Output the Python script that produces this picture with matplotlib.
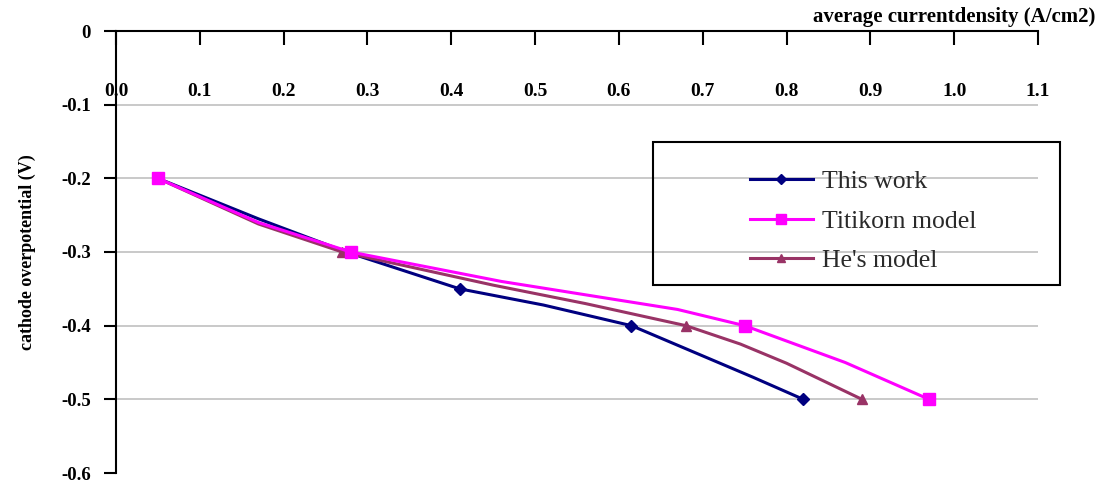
import matplotlib
matplotlib.use("Agg")
import matplotlib.pyplot as plt
from matplotlib.patches import Rectangle

# ---- data ----
this_x = [0.05, 0.17, 0.275, 0.41, 0.51, 0.615, 0.76, 0.82]
this_y = [-0.2, -0.255, -0.3, -0.35, -0.372, -0.4, -0.47, -0.5]
this_marks = [0, 2, 3, 5, 7]

tit_x = [0.05, 0.17, 0.28, 0.46, 0.67, 0.75, 0.87, 0.97]
tit_y = [-0.2, -0.26, -0.3, -0.34, -0.378, -0.4, -0.45, -0.5]
tit_marks = [0, 2, 5, 7]

he_x = [0.05, 0.17, 0.27, 0.45, 0.56, 0.68, 0.745, 0.80, 0.89]
he_y = [-0.2, -0.262, -0.3, -0.345, -0.37, -0.4, -0.425, -0.451, -0.5]
he_marks = [0, 2, 5, 8]

x_ticks = [0.0, 0.1, 0.2, 0.3, 0.4, 0.5, 0.6, 0.7, 0.8, 0.9, 1.0, 1.1]
y_ticks = [0, -0.1, -0.2, -0.3, -0.4, -0.5, -0.6]
labels = ["This work", "Titikorn model", "He's model"]

plt.rcParams['font.family'] = ['Liberation Serif', 'DejaVu Serif']

W, H = 1096, 488
fig = plt.figure(figsize=(W / 100, H / 100), dpi=100)
ax = fig.add_axes([116 / W, 1 - 473 / H, (1038 - 116) / W, (473 - 31) / H])

ax.set_xlim(0, 1.1)
ax.set_ylim(-0.6, 0)

l1, = ax.plot(this_x, this_y, color='#000080', lw=2.2, marker='D', ms=6,
              markevery=this_marks, label=labels[0], zorder=3)
l2, = ax.plot(tit_x, tit_y, color='#FF00FF', lw=2.2, marker='s', ms=8,
              markevery=tit_marks, label=labels[1], zorder=4)
l3, = ax.plot(he_x, he_y, color='#993366', lw=2.2, marker='^', ms=7,
              markevery=he_marks, label=labels[2], zorder=3)

for s in ['right', 'bottom']:
    ax.spines[s].set_visible(False)
ax.spines['left'].set_linewidth(1.5)
ax.spines['top'].set_linewidth(1.5)

ax.set_yticks(y_ticks)
ax.set_yticklabels(['0', '-0.1', '-0.2', '-0.3', '-0.4', '-0.5', '-0.6'],
                   fontweight='bold', fontsize=13.5)
ax.tick_params(axis='y', direction='out', length=9, width=1.5, pad=9)

ax.xaxis.tick_top()
ax.set_xticks(x_ticks)
ax.set_xticklabels([f"{v:.1f}" for v in x_ticks], fontweight='bold', fontsize=14)
ax.tick_params(axis='x', direction='in', length=10, width=1.5, pad=-50)

ax.yaxis.grid(True, color='#c0c0c0', lw=1.2)
ax.set_axisbelow(True)
gl = ax.get_ygridlines()
gl[0].set_visible(False)
gl[-1].set_visible(False)

ax.set_ylabel('cathode overpotential (V)', fontweight='bold', fontsize=13, labelpad=18)
fig.text(1095 / W, 1 - 17 / H, 'average currentdensity (A/cm2)', ha='right', va='center',
         fontweight='bold', fontsize=15)

# legend box
fig.add_artist(Rectangle((653 / W, 1 - 285 / H), (1060 - 653) / W, (285 - 142) / H,
                         transform=fig.transFigure, fill=False, ec='black', lw=1.5))
leg = fig.legend(handles=[l1, l2, l3], loc='upper left',
                 bbox_to_anchor=(750 / W, 1 - 170 / H), frameon=False,
                 fontsize=18.5, handlelength=2.45, handletextpad=0.35, labelspacing=0.65,
                 markerscale=0.9, borderpad=0, borderaxespad=0)
for t in leg.get_texts():
    t.set_color('#2a2a2a')

fig.savefig('out.png', dpi=100)
